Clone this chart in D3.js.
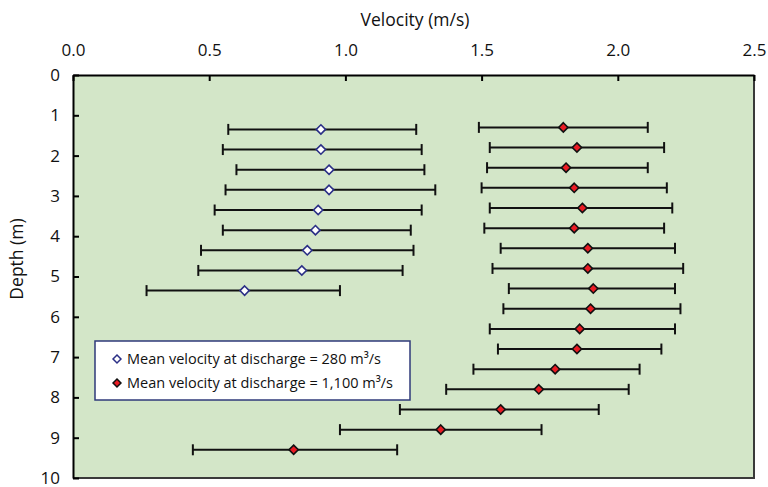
<!DOCTYPE html>
<html>
<head>
<meta charset="utf-8">
<script src="https://cdn.jsdelivr.net/npm/d3@7"></script>
<style>
  html, body { margin: 0; padding: 0; background: #ffffff; }
  svg { display: block; font-family: "Open Sans", "DejaVu Sans", sans-serif; }
</style>
</head>
<body>
<svg id="chart" width="768" height="487"></svg>
<script>
// Velocity profiles: mean velocity with min–max range at each depth
const velocityTicks = [0.0, 0.5, 1.0, 1.5, 2.0, 2.5];
const depthTicks = [0, 1, 2, 3, 4, 5, 6, 7, 8, 9, 10];

// Discharge = 280 m³/s
const lowDepth = [1.35, 1.85, 2.35, 2.85, 3.35, 3.85, 4.35, 4.85, 5.35];
const lowMean  = [0.91, 0.91, 0.94, 0.94, 0.90, 0.89, 0.86, 0.84, 0.63];
const lowMin   = [0.57, 0.55, 0.60, 0.56, 0.52, 0.55, 0.47, 0.46, 0.27];
const lowMax   = [1.26, 1.28, 1.29, 1.33, 1.28, 1.24, 1.25, 1.21, 0.98];

// Discharge = 1,100 m³/s
const highDepth = [1.3, 1.8, 2.3, 2.8, 3.3, 3.8, 4.3, 4.8, 5.3, 5.8, 6.3, 6.8, 7.3, 7.8, 8.3, 8.8, 9.3];
const highMean  = [1.80, 1.85, 1.81, 1.84, 1.87, 1.84, 1.89, 1.89, 1.91, 1.90, 1.86, 1.85, 1.77, 1.71, 1.57, 1.35, 0.81];
const highMin   = [1.49, 1.53, 1.52, 1.50, 1.53, 1.51, 1.57, 1.54, 1.60, 1.58, 1.53, 1.56, 1.47, 1.37, 1.20, 0.98, 0.44];
const highMax   = [2.11, 2.17, 2.11, 2.18, 2.20, 2.17, 2.21, 2.24, 2.21, 2.23, 2.21, 2.16, 2.08, 2.04, 1.93, 1.72, 1.19];

const legendLabels = [
  "Mean velocity at discharge = 280 m\u00B3/s",
  "Mean velocity at discharge = 1,100 m\u00B3/s"
];

const svg = d3.select("#chart");
const plot = { left: 73, right: 754, top: 75, bottom: 478 };

const x = d3.scaleLinear().domain([0, 2.5]).range([plot.left, plot.right]);
const y = d3.scaleLinear().domain([0, 10]).range([plot.top, plot.bottom]);

// Plot background
svg.append("rect")
  .attr("x", plot.left).attr("y", plot.top)
  .attr("width", plot.right - plot.left).attr("height", plot.bottom - plot.top)
  .attr("fill", "#d3e6c8");

// Right and bottom frame edges
svg.append("path")
  .attr("d", `M${plot.right},${plot.top}V${plot.bottom}H${plot.left}`)
  .attr("fill", "none").attr("stroke", "#3a3a3a").attr("stroke-width", 2);

// Top axis (velocity)
const xAxis = svg.append("g")
  .attr("transform", `translate(0,${plot.top})`)
  .call(d3.axisTop(x).tickValues(velocityTicks).tickFormat(d3.format(".1f"))
    .tickSizeInner(-6).tickSizeOuter(0).tickPadding(19));
xAxis.select(".domain").attr("stroke", "#000").attr("stroke-width", 2);
xAxis.selectAll(".tick line").attr("stroke", "#000").attr("stroke-width", 2);
xAxis.selectAll(".tick text").attr("font-size", 17).attr("fill", "#111")
  .attr("font-family", "\"Open Sans\", sans-serif");

// Left axis (depth)
const yAxis = svg.append("g")
  .attr("transform", `translate(${plot.left},0)`)
  .call(d3.axisLeft(y).tickValues(depthTicks)
    .tickSizeInner(-6).tickSizeOuter(0).tickPadding(13));
yAxis.select(".domain").attr("stroke", "#000").attr("stroke-width", 2);
yAxis.selectAll(".tick line").attr("stroke", "#000").attr("stroke-width", 2);
yAxis.selectAll(".tick text").attr("font-size", 17).attr("fill", "#111")
  .attr("font-family", "\"Open Sans\", sans-serif");

// Axis titles
svg.append("text")
  .attr("x", 415).attr("y", 26)
  .attr("text-anchor", "middle").attr("font-size", 17.5).attr("fill", "#111")
  .text("Velocity (m/s)");
svg.append("text")
  .attr("transform", `translate(23,259) rotate(-90)`)
  .attr("text-anchor", "middle").attr("font-size", 17.5).attr("fill", "#111")
  .text("Depth (m)");

// Error bars with caps
function drawBars(depth, lo, hi) {
  const g = svg.append("g").attr("stroke", "#111").attr("stroke-width", 2);
  depth.forEach((d, i) => {
    g.append("line").attr("x1", x(lo[i])).attr("x2", x(hi[i]))
      .attr("y1", y(d)).attr("y2", y(d));
    g.append("line").attr("x1", x(lo[i])).attr("x2", x(lo[i]))
      .attr("y1", y(d) - 5.5).attr("y2", y(d) + 5.5);
    g.append("line").attr("x1", x(hi[i])).attr("x2", x(hi[i]))
      .attr("y1", y(d) - 5.5).attr("y2", y(d) + 5.5);
  });
}
drawBars(lowDepth, lowMin, lowMax);
drawBars(highDepth, highMin, highMax);

const diamond = d3.symbol().type(d3.symbolDiamond2).size(55)();

svg.append("g").selectAll("path")
  .data(lowDepth.map((d, i) => [lowMean[i], d]))
  .join("path")
  .attr("d", diamond)
  .attr("transform", p => `translate(${x(p[0])},${y(p[1])})`)
  .attr("fill", "#ffffff").attr("stroke", "#2b2f86").attr("stroke-width", 1.6);

svg.append("g").selectAll("path")
  .data(highDepth.map((d, i) => [highMean[i], d]))
  .join("path")
  .attr("d", diamond)
  .attr("transform", p => `translate(${x(p[0])},${y(p[1])})`)
  .attr("fill", "#ea1c24").attr("stroke", "#111").attr("stroke-width", 1.6);

// Legend
const legend = svg.append("g");
legend.append("rect")
  .attr("x", 95).attr("y", 341).attr("width", 315).attr("height", 59)
  .attr("fill", "#ffffff").attr("stroke", "#2f3a7a").attr("stroke-width", 1.5);

const legendMarker = d3.symbol().type(d3.symbolDiamond2).size(40)();
const legendRows = [
  { fill: "#ffffff", stroke: "#2b2f86" },
  { fill: "#ea1c24", stroke: "#111" }
];
legendRows.forEach((r, i) => {
  const cy = 359 + i * 24;
  legend.append("path").attr("d", legendMarker)
    .attr("transform", `translate(117,${cy})`)
    .attr("fill", r.fill).attr("stroke", r.stroke).attr("stroke-width", 1.5);
  legend.append("text")
    .attr("x", 127).attr("y", cy).attr("dy", "0.35em")
    .attr("font-size", 14.5).attr("fill", "#111")
    .text(legendLabels[i]);
});
</script>
</body>
</html>
